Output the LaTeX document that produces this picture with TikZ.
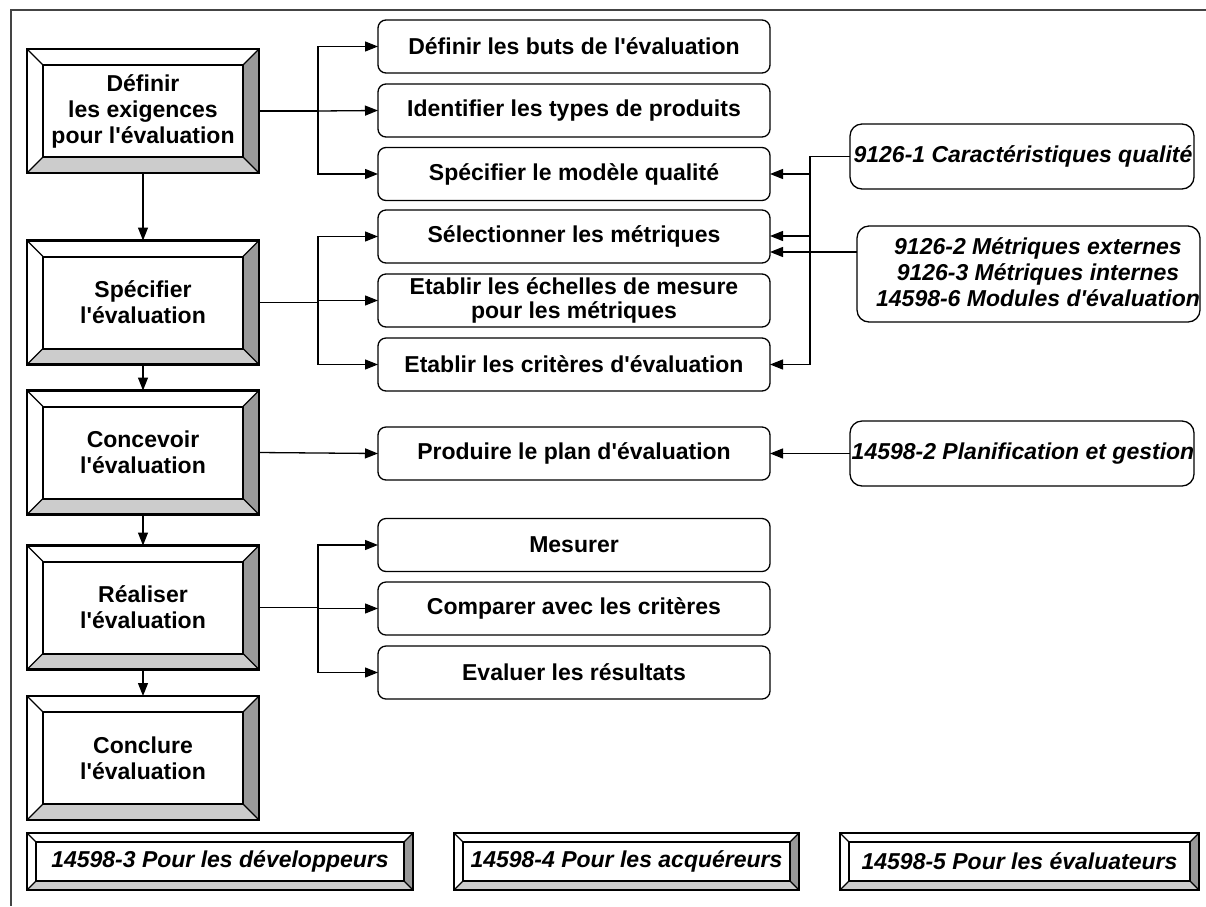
\documentclass[tikz,border=0pt]{standalone}
\usepackage{fontspec}
\setmainfont{Liberation Sans}
\usetikzlibrary{arrows.meta,calc}
\newcommand\ap{\textquotesingle}
\definecolor{bevR}{HTML}{999999}
\definecolor{bevB}{HTML}{CCCCCC}
\definecolor{framegray}{HTML}{444444}

% Raised frame drawn around a rectangular node:
% #1 node, #2 bevel depth, #3 outer line width, #4 inner line width
\newcommand\bevelframe[4]{%
  \fill[white] (#1.north west) -- (#1.north east) -- ([shift={(-#2,-#2)}]#1.north east) -- ([shift={(#2,-#2)}]#1.north west) -- cycle;
  \fill[white] (#1.north west) -- ([shift={(#2,-#2)}]#1.north west) -- ([shift={(#2,#2)}]#1.south west) -- (#1.south west) -- cycle;
  \fill[bevR] (#1.north east) -- (#1.south east) -- ([shift={(-#2,#2)}]#1.south east) -- ([shift={(-#2,-#2)}]#1.north east) -- cycle;
  \fill[bevB] (#1.south west) -- (#1.south east) -- ([shift={(-#2,#2)}]#1.south east) -- ([shift={(#2,#2)}]#1.south west) -- cycle;
  \draw[line width=1.2pt] (#1.north west) -- ([shift={(#2,-#2)}]#1.north west)
    (#1.north east) -- ([shift={(-#2,-#2)}]#1.north east)
    (#1.south west) -- ([shift={(#2,#2)}]#1.south west)
    (#1.south east) -- ([shift={(-#2,#2)}]#1.south east);
  \draw[line width=#4] ([shift={(#2,-#2)}]#1.north west) rectangle ([shift={(-#2,#2)}]#1.south east);
  \draw[line width=#3] (#1.north west) rectangle (#1.south east);
}

\tikzset{
  txt/.style={font=\bfseries\fontsize{23}{26}\selectfont},
  itxt/.style={font=\bfseries\itshape\fontsize{23}{26}\selectfont},
  lbox/.style={txt, rectangle, minimum width=232pt, minimum height=124pt,
    inner sep=0pt, outer sep=0pt, align=center},
  bbox/.style={itxt, rectangle, minimum height=57pt, inner sep=0pt,
    outer sep=0pt, align=center},
  mbox/.style={txt, draw, rounded corners=8pt, minimum width=392pt,
    minimum height=53pt, inner sep=0pt, outer sep=0pt, line width=1.3pt, align=center},
  rbox/.style={draw, rounded corners=12pt, inner sep=0pt, outer sep=0pt, line width=1.3pt},
  rtext/.style={itxt, inner sep=0pt, align=center},
  conn/.style={line width=1.3pt},
  arr/.style={conn, -{Triangle[length=13pt,width=10pt]}},
}

\begin{document}
\begin{tikzpicture}[x=1pt,y=-1pt]
\useasboundingbox (0,0) rectangle (1206,906);

% outer frame (top and left sides)
\coordinate (frameNE) at (1206,10);
\coordinate (frameNW) at (11,10);
\coordinate (frameSW) at (11,906);
\draw[framegray, line width=1.5pt] (frameNE) -- (frameNW) -- (frameSW);

% main process steps
\node[lbox] (L1) at (143,111)   {D\'efinir\\les exigences\\pour l\ap\'evaluation};
\node[lbox] (L2) at (143,302.5) {Sp\'ecifier\\l\ap\'evaluation};
\node[lbox] (L3) at (143,452.5) {Concevoir\\l\ap\'evaluation};
\node[lbox] (L4) at (143,607.5) {R\'ealiser\\l\ap\'evaluation};
\node[lbox] (L5) at (143,758)   {Conclure\\l\ap\'evaluation};
\foreach \n in {L1,L2,L3,L4,L5} {\bevelframe{\n}{16pt}{2.6pt}{2pt}}

\draw[arr] (L1.south) -- (L2.north);
\draw[arr] (L2.south) -- (L3.north);
\draw[arr] (L3.south) -- (L4.north);
\draw[arr] (L4.south) -- (L5.north);

% activities
\node[mbox] (M1)  at (574,46.5)  {D\'efinir les buts de l\ap\'evaluation};
\node[mbox] (M2)  at (574,110.5) {Identifier les types de produits};
\node[mbox] (M3)  at (574,174)   {Sp\'ecifier le mod\`ele qualit\'e};
\node[mbox] (M4)  at (574,236.5) {S\'electionner les m\'etriques};
\node[mbox, font=\bfseries\fontsize{23}{24}\selectfont] (M5) at (574,300.5)
  {Etablir les \'echelles de mesure\\pour les m\'etriques};
\node[mbox] (M6)  at (574,364.5) {Etablir les crit\`eres d\ap\'evaluation};
\node[mbox] (M7)  at (574,453.5) {Produire le plan d\ap\'evaluation};
\node[mbox] (M8)  at (574,545)   {Mesurer};
\node[mbox] (M9)  at (574,608.5) {Comparer avec les crit\`eres};
\node[mbox] (M10) at (574,672.5) {Evaluer les r\'esultats};

% branching from steps to activities
\coordinate (busA) at (318,0);
\draw[arr] (L1.east) -- (L1.east -| busA) |- (M1.west);
\draw[arr] (L1.east -| busA) -- (M2.west);
\draw[arr] (L1.east -| busA) |- (M3.west);
\draw[arr] (L2.east) -- (L2.east -| busA) |- (M4.west);
\draw[arr] (L2.east -| busA) |- (M5.west);
\draw[arr] (L2.east -| busA) |- (M6.west);
\draw[arr] (L3.east) -- (M7.west);
\draw[arr] (L4.east) -- (L4.east -| busA) |- (M8.west);
\draw[arr] (L4.east -| busA) |- (M9.west);
\draw[arr] (L4.east -| busA) |- (M10.west);

% reference standards
\node[rbox, minimum width=344pt, minimum height=65pt] (R1) at (1022,156.5) {};
\node[rtext] (R1t) at (1023,156.5) {9126-1 Caract\'eristiques qualit\'e};
\node[rbox, minimum width=343pt, minimum height=96pt] (R2) at (1028.5,274) {};
\node[rtext] (R2t) at (1038,272)
  {9126-2 M\'etriques externes\\9126-3 M\'etriques internes\\14598-6 Modules d\ap\'evaluation};
\node[rbox, minimum width=344pt, minimum height=65pt] (R3) at (1022,453.5) {};
\node[rtext] (R3t) at (1023,453.5) {14598-2 Planification et gestion};

\coordinate (busB) at (810,0);
\draw[arr] (R1.west) -- (R1.west -| busB) |- (M3.east);
\draw[arr] (R1.west -| busB) |- ([yshift=0.5pt]M4.east);
\draw[arr] (R1.west -| busB) |- (M6.east);
\coordinate (R2out) at (857,252);
\draw[arr] (R2out) -- (R2out -| M4.east);
\draw[arr] (R3.west) -- (M7.east);

% parts of the series
\node[bbox, minimum width=386pt] (B1) at (220,861.5)   {14598-3 Pour les d\'eveloppeurs};
\node[bbox, minimum width=345pt] (B2) at (626.5,861.5) {14598-4 Pour les acqu\'ereurs};
\node[bbox, minimum width=359pt] (B3) at (1019.5,861.5){14598-5 Pour les \'evaluateurs};
\foreach \n in {B1,B2,B3} {\bevelframe{\n}{9pt}{1.6pt}{1.4pt}}
\end{tikzpicture}
\end{document}
